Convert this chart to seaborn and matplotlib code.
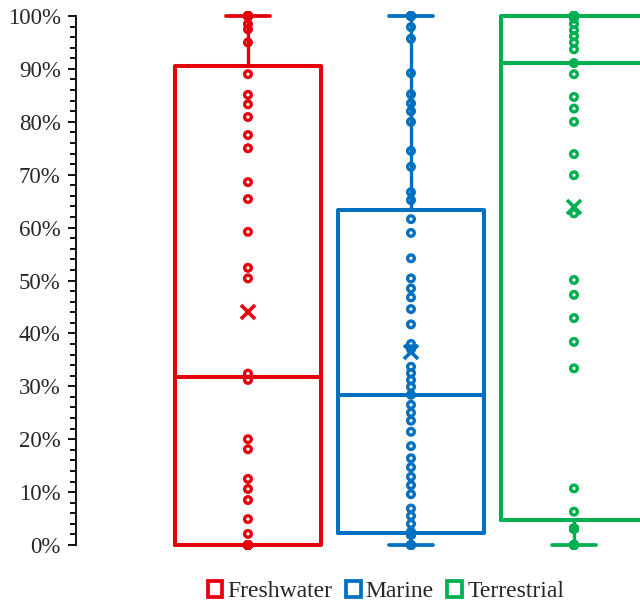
import matplotlib
matplotlib.use("Agg")
import matplotlib.pyplot as plt
from matplotlib.patches import Patch
from matplotlib.ticker import MultipleLocator
import pandas as pd
import seaborn as sns

# Share of each study (%) by habitat
habitats = ["Freshwater", "Marine", "Terrestrial"]
colors = ["#E6000E", "#0070C0", "#00B050"]

freshwater = [0, 0, 0, 0, 0, 0, 0, 0, 0, 0, 0, 0, 0, 0, 0, 0,
              2.1, 4.9, 8.5, 10.6, 12.5, 18.1, 20.0, 31.2, 32.4,
              50.4, 52.4, 59.2, 65.4, 68.6, 75.0, 77.5, 80.9, 83.3,
              85.1, 89.0, 95.0, 97.5, 98.5,
              100, 100, 100, 100, 100, 100, 100, 100, 100]

marine = [0, 0, 0, 2.0, 2.0, 2.0, 2.0, 2.0, 2.0, 2.0, 2.0, 2.0, 2.0, 2.0, 2.0,
          2.5, 4.0, 5.5, 6.9, 9.6, 11.3, 12.9, 14.7, 16.4, 18.7, 21.4,
          23.5, 25.0, 26.5, 28.4, 29.9, 31.2, 32.5, 33.7, 37.0, 38.0,
          41.7, 44.6, 46.8, 48.5, 50.4, 54.2, 59.0, 61.6, 65.2, 66.7,
          71.5, 74.5, 80.0, 82.0, 83.5, 85.2, 89.2, 95.7, 97.9,
          100, 100, 100, 100]

terrestrial = [0, 0, 0, 0, 0, 3.1, 3.1, 3.1, 3.1, 3.1, 3.1, 3.1, 3.1, 3.1, 3.1,
               6.3, 10.7, 33.4, 38.4, 42.9, 47.3, 50.1, 62.7, 69.9, 73.9,
               80.0, 82.5, 84.7, 89.0, 91.1, 93.7, 95.0, 96.2, 97.3, 98.5,
               99.5,
               100, 100, 100, 100, 100, 100, 100, 100, 100, 100, 100, 100,
               100, 100, 100, 100, 100, 100, 100, 100, 100, 100, 100]

y_ticks = [0, 10, 20, 30, 40, 50, 60, 70, 80, 90, 100]
y_tick_labels = ["0%", "10%", "20%", "30%", "40%", "50%",
                 "60%", "70%", "80%", "90%", "100%"]

df = pd.concat([
    pd.DataFrame({"habitat": name, "share": vals})
    for name, vals in zip(habitats, [freshwater, marine, terrestrial])
], ignore_index=True)
palette = dict(zip(habitats, colors))

sns.set_style("white")
plt.rcParams["font.family"] = ["Liberation Serif", "DejaVu Serif"]

fig = plt.figure(figsize=(6.4, 6.05), dpi=100)
ax = fig.add_axes([0.11875, 0.0904, 0.88125, 0.8919])

sns.boxplot(
    data=df, x="habitat", y="share", hue="habitat", order=habitats,
    hue_order=habitats, palette=palette, fill=False, width=0.9,
    whis=(0, 100), linewidth=2.9, capwidths=0.27,
    whiskerprops={"linewidth": 2.4}, capprops={"linewidth": 2.7},
    legend=False, ax=ax,
)

sns.stripplot(
    data=df, x="habitat", y="share", hue="habitat", order=habitats,
    hue_order=habitats, palette=palette, jitter=False, size=4.8,
    linewidth=2.4, legend=False, ax=ax,
)
# hollow rings: move the fill colour to the outline
for coll in ax.collections:
    fc = coll.get_facecolors()
    if len(fc):
        coll.set_edgecolors(fc)
        coll.set_facecolors("none")
        coll.set_zorder(3)

sns.pointplot(
    data=df, x="habitat", y="share", hue="habitat", order=habitats,
    hue_order=habitats, palette=palette, estimator="mean", errorbar=None,
    markers="x", linestyles="none", markersize=9.5, markeredgewidth=2.6,
    legend=False, ax=ax,
)

ax.set_xlim(-1.055, 2.405)
ax.set_ylim(-1, 101)
ax.set_yticks(y_ticks)
ax.set_yticklabels(y_tick_labels, fontsize=16.5)
ax.yaxis.set_minor_locator(MultipleLocator(2))
ax.tick_params(axis="y", which="major", direction="out", length=6,
               width=1.3, color="black", pad=5, left=True)
ax.tick_params(axis="y", which="minor", direction="out", length=4,
               width=1.3, color="black", left=True)
ax.set_xticks([])
ax.set_xlabel("")
ax.set_ylabel("")
for side in ["top", "right", "bottom"]:
    ax.spines[side].set_visible(False)
ax.spines["left"].set_bounds(0, 100)
ax.spines["left"].set_linewidth(1.3)
ax.spines["left"].set_color("black")

handles = [Patch(facecolor="none", edgecolor=c, linewidth=2.7, label=h)
           for h, c in zip(habitats, colors)]
fig.legend(handles=handles, loc="center", bbox_to_anchor=(0.603, 0.022),
           ncol=3, frameon=False, fontsize=17, handlelength=0.62,
           handleheight=0.62, handletextpad=0.22, columnspacing=0.57,
           borderaxespad=0)

fig.savefig("out.png", dpi=100)
